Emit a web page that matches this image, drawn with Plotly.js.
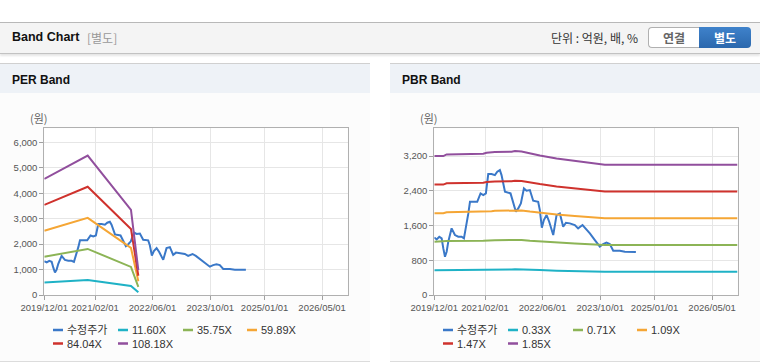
<!DOCTYPE html>
<html><head><meta charset="utf-8">
<script src="https://cdn.plot.ly/plotly-3.0.1.min.js"></script>
<style>
body{margin:0;width:760px;height:364px;position:relative;overflow:hidden;background:#fff;font-family:'Liberation Sans','Noto Sans CJK KR',sans-serif}
.abs{position:absolute}
#hdr{left:0;top:22px;width:760px;height:30px;background:#f4f4f4;border-top:1px solid #b8b8b8;border-bottom:1px solid #c2c2c2;box-shadow:0 2px 2px rgba(0,0,0,0.10)}
.panel{top:63px;width:370px;height:297px;background:#fcfcfc;border-top:1px solid #d0d0d0;border-bottom:1px solid #dcdcdc}
.ph{left:0;top:0;width:370px;height:29px;background:#eef2f7}
.pt{left:12px;top:9px;font-weight:bold;font-size:12px;color:#111}
.btn{top:27px;height:19px;font-size:12px;font-weight:bold;text-align:center;line-height:19px;font-family:'Noto Sans CJK KR',sans-serif}
</style></head>
<body>
<div id="hdr" class="abs">
  <div class="abs" style="left:12px;top:7px;font-weight:bold;font-size:12.5px;color:#111">Band Chart</div>
  <div class="abs" style="left:87px;top:6px;font-size:12px;color:#999;font-family:'Noto Sans CJK KR',sans-serif">[별도]</div>
  <div class="abs" style="left:551px;top:6px;font-size:12px;color:#333;font-family:'Noto Sans CJK KR',sans-serif">단위 : 억원, 배, %</div>
</div>
<div class="abs btn" style="left:648px;width:50px;background:#fff;border:1px solid #b0b0b0;border-right:none;border-radius:4px 0 0 4px;color:#666">연결</div>
<div class="abs btn" style="left:699px;width:52px;height:21px;line-height:21px;background:linear-gradient(#3f82cb,#2b68ad);border-radius:0 4px 4px 0;color:#fff">별도</div>
<div class="abs panel" style="left:0"><div class="abs ph"></div><div class="abs pt">PER Band</div></div>
<div class="abs panel" style="left:390px"><div class="abs ph"></div><div class="abs pt">PBR Band</div></div>
<div id="chart" class="abs" style="left:0;top:0;width:760px;height:364px;z-index:2"></div>
<script>
// ---- data ----
const priceName = '수정주가';
const priceDates = ['2019-12-01','2019-12-21','2020-01-12','2020-02-01','2020-02-15','2020-02-29','2020-03-14','2020-03-28','2020-04-25','2020-05-23','2020-06-20','2020-07-18','2020-08-07','2020-08-24','2020-09-13','2020-09-27','2020-10-25','2020-11-27','2020-12-25','2021-01-17','2021-02-08','2021-02-28','2021-03-28','2021-04-25','2021-05-15','2021-06-06','2021-06-20','2021-07-19','2021-09-04','2021-10-19','2021-11-08','2021-11-30','2021-12-26','2022-01-17','2022-02-14','2022-03-14','2022-04-25','2022-05-09','2022-05-26','2022-06-12','2022-07-05','2022-07-27','2022-08-30','2022-09-27','2022-10-25','2022-11-22','2022-12-15','2023-01-17','2023-02-28','2023-03-28','2023-05-04','2023-06-01','2023-07-05','2023-08-16','2023-09-27','2023-10-25','2023-11-22','2023-12-20','2024-01-18','2024-03-14','2024-04-25','2024-07-27'];
const priceVals = [1327,1281,1343,1304,1074,882,997,1228,1535,1381,1343,1343,1304,1535,1880,2148,2148,2148,2340,2302,2340,2785,2785,2762,2839,2877,2762,2379,2340,1918,1995,2110,2455,2402,2417,2171,2148,1957,1550,1726,1841,1688,1381,1841,1880,1573,1665,1650,1611,1535,1611,1535,1419,1266,1113,1174,1205,1174,1021,1021,997,990];

const perNames = ['11.60X','35.75X','59.89X','84.04X','108.18X'];
const perDates = ['2019-12-01','2020-12-01','2021-12-01','2022-02-01'];
const per1 = [489,587,358,105];
const per2 = [1506,1810,1104,322];
const per3 = [2523,3032,1849,539];
const per4 = [3540,4254,2595,756];
const per5 = [4559,5476,3340,974];

const pbrNames = ['0.33X','0.71X','1.09X','1.47X','1.85X'];
const pbrDates = ['2019-12-01','2020-02-15','2020-03-14','2021-01-17','2021-02-14','2021-03-28','2021-04-25','2021-09-13','2021-10-11','2021-12-06','2022-02-14','2022-05-09','2022-09-27','2023-02-28','2023-09-27','2023-11-08','2026-12-01'];
const pbr1 = [571,571,578,580,584,584,587,588,591,590,582,574,561,550,538,535,535];
const pbr2 = [1228,1228,1243,1248,1257,1257,1263,1266,1272,1269,1252,1234,1208,1184,1157,1152,1152];
const pbr3 = [1886,1886,1908,1916,1930,1930,1939,1943,1953,1948,1922,1894,1854,1818,1777,1768,1768];
const pbr4 = [2543,2543,2573,2584,2603,2603,2615,2621,2634,2627,2592,2555,2500,2452,2396,2384,2384];
const pbr5 = [3200,3200,3238,3253,3276,3276,3292,3299,3315,3307,3261,3215,3146,3085,3015,3000,3000];

const tickDates = ['2019-12-01','2021-02-01','2022-06-01','2023-10-01','2025-01-01','2026-05-01'];
const tickLabels = ['2019/12/01','2021/02/01','2022/06/01','2023/10/01','2025/01/01','2026/05/01'];
const perTicks = [0,1000,2000,3000,4000,5000,6000];
const pbrTicks = [0,800,1600,2400,3200];
const yUnit = '(원)';

const colors = ['#3a78c8','#1fb2c6','#8cb456','#f5a635','#cf322d','#914f9d'];

// ---- build ----
const W=760,H=364;
const px=x=>x/W, py=y=>1-y/H;
const traces=[];
function line(x,y,name,color,xa,ya){traces.push({type:'scatter',mode:'lines',x:x,y:y,name:name,xaxis:xa,yaxis:ya,line:{color:color,width:2},showlegend:false,hoverinfo:'skip'});}
line(priceDates,priceVals,priceName,colors[0],'x','y');
[per1,per2,per3,per4,per5].forEach((v,i)=>line(perDates,v,perNames[i],colors[i+1],'x','y'));
line(priceDates,priceVals,priceName,colors[0],'x2','y2');
[pbr1,pbr2,pbr3,pbr4,pbr5].forEach((v,i)=>line(pbrDates,v,pbrNames[i],colors[i+1],'x2','y2'));

const tickFont={family:'Liberation Sans, sans-serif',size:9.5,color:'#555'};
function xax(l,r){return {domain:[px(l),px(r)],type:'date',range:['2019-12-01','2026-12-01'],tickmode:'array',tickvals:tickDates,ticktext:tickLabels,showgrid:true,gridcolor:'#e6e6e6',gridwidth:1,showline:true,mirror:true,linecolor:'#b0b0b0',linewidth:1,ticks:'outside',ticklen:4,tickcolor:'#a0a0a0',tickfont:tickFont,zeroline:false,fixedrange:true};}
function yax(max,ticks,anchor){return {domain:[py(295),py(128.3)],range:[0,max],tickmode:'array',tickvals:ticks,ticktext:ticks.map(v=>v.toLocaleString('en-US')),showgrid:true,gridcolor:'#e6e6e6',showline:true,mirror:true,linecolor:'#b0b0b0',ticks:'outside',ticklen:4,tickcolor:'#a0a0a0',tickfont:tickFont,zeroline:false,fixedrange:true,anchor:anchor};}

const shapes=[],annotations=[];
function legend(off,names){
  const cols=[53,118,183,247];
  names.forEach((n,i)=>{
    const c=cols[i%4]+off, y=i<4?330:343.5;
    shapes.push({type:'line',xref:'paper',yref:'paper',x0:px(c),x1:px(c+10),y0:py(y),y1:py(y),line:{color:colors[i],width:2.5}});
    annotations.push({xref:'paper',yref:'paper',x:px(c+12),y:py(y),xanchor:'left',yanchor:'middle',text:n,showarrow:false,font:{family:'Liberation Sans, Noto Sans CJK KR, sans-serif',size:11,color:'#333'}});
  });
}
legend(0,[priceName].concat(perNames));
legend(390,[priceName].concat(pbrNames));
[[39,118],[429,118]].forEach(p=>annotations.push({xref:'paper',yref:'paper',x:px(p[0]),y:py(p[1]),xanchor:'center',yanchor:'middle',text:yUnit,showarrow:false,font:{family:'Noto Sans CJK KR, sans-serif',size:11,color:'#666'}}));

const layout={width:W,height:H,margin:{l:0,r:0,t:0,b:0},paper_bgcolor:'rgba(0,0,0,0)',plot_bgcolor:'#fff',showlegend:false,
  xaxis:xax(44.3,347.5),yaxis:yax(6550,perTicks,'x'),
  xaxis2:xax(434.3,737.5),yaxis2:yax(3840,pbrTicks,'x2'),
  shapes:shapes,annotations:annotations};
layout.xaxis.anchor='y';layout.xaxis2.anchor='y2';
Plotly.newPlot('chart',traces,layout,{staticPlot:true,displayModeBar:false});
</script>
</body></html>
